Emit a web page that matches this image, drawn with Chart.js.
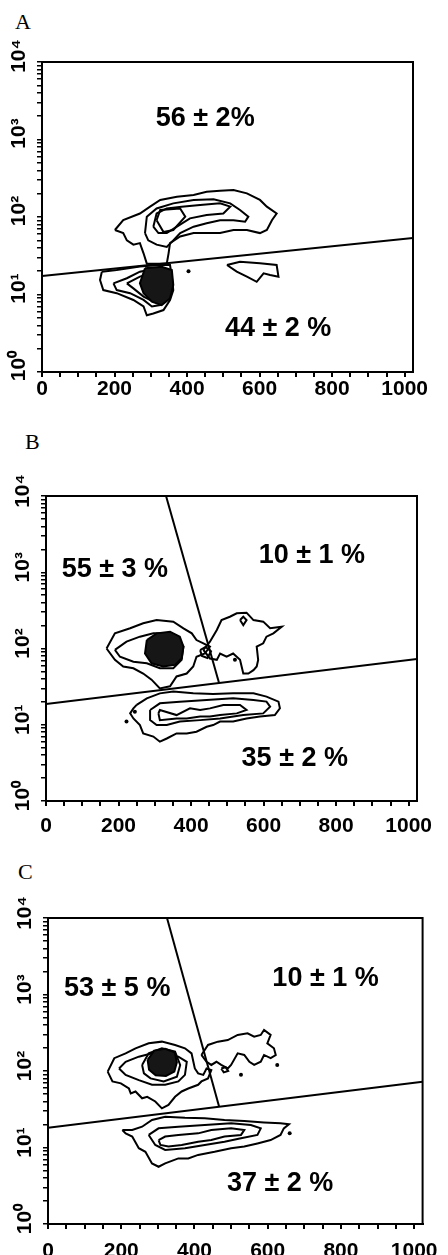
<!DOCTYPE html>
<html>
<head>
<meta charset="utf-8">
<script src="https://cdn.jsdelivr.net/npm/chart.js@4.4.0/dist/chart.umd.min.js"></script>
<style>
  body { margin: 0; background: #fff; width: 448px; height: 1255px; position: relative; overflow: hidden; }
  canvas { position: absolute; left: 0; }
  .tag { position: absolute; font-family: "Liberation Serif", "Times New Roman", serif; font-size: 22px; line-height: 22px; color: #000; }
</style>
</head>
<body>
<div class="tag" style="left:15px;top:11px">A</div>
<div class="tag" style="left:25px;top:431px">B</div>
<div class="tag" style="left:18px;top:861px">C</div>
<canvas id="chartA" width="448" height="415" style="top:0px"></canvas>
<canvas id="chartB" width="448" height="420" style="top:415px"></canvas>
<canvas id="chartC" width="448" height="420" style="top:835px"></canvas>
<script>
// axes
const xTickValues = [0, 50, 100, 150, 200, 250, 300, 350, 400, 450, 500, 550, 600, 650, 700, 750, 800, 850, 900, 950, 1000];
const xLabelValues = [0, 200, 400, 600, 800, 1000];
const yTickValues = [1, 2, 3, 4, 5, 6, 7, 8, 9, 10, 20, 30, 40, 50, 60, 70, 80, 90,
  100, 200, 300, 400, 500, 600, 700, 800, 900, 1000, 2000, 3000, 4000, 5000, 6000, 7000, 8000, 9000, 10000];
const yLabelValues = [1, 10, 100, 1000, 10000];
const yLabelText = ['10⁰', '10¹', '10²', '10³', '10⁴'];

// panel A
const aGate = [[0, 17.3], [1023, 53.6]];
const aUpOuter = [[201, 68], [224, 91], [270, 111], [298, 136], [326, 166], [372, 183], [418, 192], [454, 212], [491, 218],
  [528, 223], [565, 202], [601, 166], [620, 136], [647, 111], [634, 91], [620, 68], [601, 62], [565, 68], [528, 68],
  [491, 62], [454, 62], [418, 62], [381, 56], [353, 46], [349, 34], [344, 25], [289, 25], [280, 34], [270, 46],
  [252, 44], [234, 50], [224, 62], [201, 68]];
const aUpMid = [[284, 62], [289, 101], [316, 129], [362, 150], [418, 166], [473, 169], [519, 150], [546, 123], [569, 101],
  [560, 87], [528, 91], [491, 91], [454, 83], [418, 75], [381, 62], [362, 50], [344, 41], [316, 44], [293, 50], [284, 62]];
const aUpInner = [[307, 75], [316, 111], [344, 129], [385, 136], [436, 143], [491, 150], [519, 136], [500, 111], [454, 106],
  [408, 96], [372, 75], [344, 62], [321, 62], [307, 75]];
const aUpCore = [[316, 91], [326, 123], [381, 129], [395, 101], [362, 68], [335, 64], [316, 91]];
const aLoOuter = [[165, 19.7], [206, 20.7], [270, 22.9], [326, 24], [353, 24], [358, 17], [362, 11.4], [353, 8.5], [335, 6.3],
  [307, 5.7], [289, 5.4], [280, 7], [252, 8.5], [206, 10.4], [169, 11.4], [160, 15.4], [165, 19.7]];
const aLoMid = [[197, 13.9], [234, 16.2], [270, 19.7], [316, 21.8], [344, 20.7], [349, 13.9], [344, 9.4], [326, 7.3],
  [303, 7.0], [280, 8.5], [243, 10.4], [206, 11.4], [197, 13.9]];
const aLoTongue = [[234, 13.9], [270, 17], [316, 19.7], [339, 17], [335, 10.4], [307, 8.1], [280, 9.4], [252, 12], [234, 13.9]];
const aLoDense = [[284, 21.8], [330, 22.8], [358, 20.7], [362, 13.3], [353, 8.9], [330, 7.3], [303, 8.1], [280, 10.4],
  [270, 14.0], [284, 21.8]];
const aRight = [[510, 24], [546, 26.5], [601, 25.3], [647, 24], [652, 17], [629, 17.9], [611, 18.8], [592, 14.6], [565, 17],
  [537, 19.7], [510, 24]];
const aDots = [[404, 20]];
const aLabelText = ['56 ± 2%', '44 ± 2 %'];
const aLabelX = [450, 651];
const aLabelY = [1890, 3.6];

// panel B
const bGateH = [[0, 18.7], [1023, 72.8]];
const bGateV = [[331, 10000], [477, 35.5]];
const bUlOuter = [[167, 100], [190, 158], [232, 184], [268, 214], [305, 236], [351, 225], [379, 184], [402, 158], [415, 129],
  [434, 117], [452, 106], [438, 86], [415, 78], [406, 58], [388, 47], [360, 43], [342, 32], [314, 30], [291, 39],
  [268, 47], [241, 55], [213, 58], [190, 71], [167, 100]];
const bUlMid = [[190, 96], [222, 123], [259, 143], [296, 158], [333, 158], [360, 143], [379, 106], [374, 71], [351, 55],
  [314, 55], [278, 64], [241, 67], [204, 78], [190, 96]];
const bDense = [[278, 129], [305, 158], [342, 166], [369, 143], [379, 106], [374, 74], [356, 61], [323, 58], [291, 64],
  [273, 86], [278, 129]];
const bRight = [[434, 96], [452, 123], [471, 175], [484, 236], [507, 261], [526, 289], [553, 295], [572, 236], [599, 225],
  [618, 184], [650, 193], [627, 158], [608, 143], [599, 117], [581, 106], [585, 71], [581, 58], [572, 52], [558, 47],
  [544, 47], [535, 71], [516, 86], [498, 78], [480, 86], [471, 71], [452, 74], [434, 96]];
const bDiamond = [[535, 236], [544, 261], [553, 236], [544, 203], [535, 236]];
const bKnot = [[425, 95], [440, 105], [455, 92], [445, 75], [430, 80], [425, 95]];
const bLoOuter = [[250, 18.2], [278, 22.2], [314, 25.8], [351, 27.2], [406, 25.8], [461, 25.3], [516, 25.8], [572, 25.8],
  [608, 23.4], [641, 20.1], [645, 16.4], [631, 13.4], [590, 12.8], [553, 12.1], [516, 11], [480, 11], [461, 9.9],
  [443, 9.4], [415, 8.1], [388, 7.7], [360, 7.7], [333, 6.6], [314, 6.0], [296, 7.0], [268, 7.7], [259, 9.9],
  [241, 12.1], [232, 14.1], [241, 16.4], [250, 18.2]];
const bLoMid = [[287, 15.6], [314, 19.1], [369, 20.1], [443, 21.1], [516, 22.2], [572, 21.1], [608, 20.1], [618, 17.3],
  [599, 14.1], [544, 13.4], [480, 12.1], [425, 11.5], [369, 11], [333, 9.9], [305, 9.9], [287, 11.5], [287, 15.6]];
const bLoInner = [[310, 14.1], [314, 15.6], [360, 13.4], [397, 16.4], [425, 15.6], [452, 16.4], [489, 18.2], [535, 18.2],
  [553, 15.6], [526, 14.1], [480, 13.4], [452, 12.8], [425, 12.8], [388, 12.1], [360, 12.1], [314, 11.5], [310, 14.1]];
const bDots = [[222, 11], [245, 14.8], [521, 71]];
const bLabelText = ['55 ± 3 %', '10 ± 1 %', '35 ± 2 %'];
const bLabelX = [190, 733, 686];
const bLabelY = [1100, 1680, 3.56];

// panel C
const cGateH = [[0, 18.1], [1023, 72.5]];
const cGateV = [[325, 10000], [467, 34.5]];
const cUlOuter = [[163, 98], [181, 147], [212, 170], [239, 198], [275, 230], [311, 242], [347, 219], [374, 198], [392, 170],
  [397, 132], [401, 108], [410, 93], [424, 89], [433, 108], [446, 103], [437, 80], [419, 73], [410, 66], [383, 59],
  [365, 54], [347, 46], [329, 36], [311, 32.5], [293, 40], [271, 46], [257, 44], [239, 54], [226, 51], [221, 59],
  [199, 69], [176, 73], [163, 98]];
const cUlMid = [[194, 108], [212, 132], [248, 154], [284, 170], [320, 162], [356, 154], [379, 132], [374, 89], [356, 73],
  [320, 66], [284, 66], [248, 76], [212, 89], [194, 108]];
const cCore1 = [[257, 120], [275, 170], [311, 198], [347, 179], [361, 120], [352, 84], [316, 73], [280, 80], [262, 93], [257, 120]];
const cDense = [[272, 140], [290, 185], [320, 195], [346, 175], [352, 130], [345, 98], [322, 86], [294, 88], [276, 104],
  [272, 140]];
const cRight = [[419, 162], [437, 219], [464, 242], [491, 254], [518, 296], [545, 311], [563, 281], [581, 296], [590, 344],
  [608, 296], [599, 230], [617, 198], [622, 162], [608, 147], [590, 162], [581, 132], [563, 120], [550, 132], [536, 162],
  [518, 170], [500, 120], [491, 108], [473, 120], [460, 132], [446, 120], [433, 132], [419, 162]];
const cLoop = [[473, 108], [485, 112], [492, 100], [480, 96], [473, 108]];
const cLoOuter = [[203, 16.9], [230, 16.9], [257, 18.7], [284, 22.9], [320, 25.3], [374, 24.5], [428, 24.1], [482, 22.9],
  [536, 22.2], [590, 21.3], [635, 20.7], [658, 20.1], [644, 17.8], [635, 14.6], [608, 12.5], [572, 11.3], [536, 10.3],
  [500, 9.8], [455, 8.8], [410, 8], [383, 7.2], [356, 7.2], [320, 6.2], [302, 5.6], [284, 6.2], [266, 8.8], [248, 9.8],
  [230, 13.9], [212, 15.3], [203, 16.9]];
const cLoMid = [[275, 14.6], [302, 17.8], [356, 18.7], [428, 19.7], [500, 20.7], [554, 19.7], [581, 17.8], [572, 14.6],
  [527, 13.2], [482, 11.9], [428, 10.8], [374, 9.8], [320, 9.3], [293, 10.8], [275, 14.6]];
const cLoInner = [[302, 12.5], [320, 13.9], [356, 14.6], [410, 15.3], [446, 16.9], [500, 17.8], [536, 16.9], [527, 14.6],
  [482, 13.9], [446, 12.5], [410, 11.9], [365, 10.8], [329, 10.3], [307, 10.8], [302, 12.5]];
const cDots = [[626, 120], [527, 89], [660, 15.3]];
const cLabelText = ['53 ± 5 %', '10 ± 1 %', '37 ± 2 %'];
const cLabelX = [189, 758, 634];
const cLabelY = [1180, 1640, 3.33];

Chart.defaults.font.family = '"Liberation Sans", Arial, sans-serif';
Chart.defaults.color = '#000';

function toPts(arr) {
  return arr.map(p => ({ x: p[0], y: p[1] }));
}

function makePanel(id, box, contours, dense, gates, dots, texts, tx, ty) {
  const datasets = [];
  dense.forEach(d => datasets.push({
    data: toPts(d), showLine: true, pointRadius: 0, borderColor: '#000', borderWidth: 2, tension: 0,
    fill: 'shape', backgroundColor: '#161616'
  }));
  contours.forEach(c => datasets.push({
    data: toPts(c), showLine: true, pointRadius: 0, borderColor: '#000', borderWidth: 2, tension: 0, fill: false
  }));
  gates.forEach(g => datasets.push({
    data: toPts(g), showLine: true, pointRadius: 0, borderColor: '#000', borderWidth: 2, tension: 0, fill: false
  }));
  datasets.push({ data: toPts(dots), showLine: false, pointRadius: 2, backgroundColor: '#000', borderWidth: 0 });

  new Chart(document.getElementById(id), {
    type: 'scatter',
    data: { datasets },
    options: {
      responsive: false,
      animation: false,
      events: [],
      layout: { padding: { top: box.top, right: box.right, left: 0, bottom: 0 } },
      plugins: { legend: { display: false }, tooltip: { enabled: false }, filler: { propagate: false } },
      scales: {
        x: {
          type: 'linear', min: 0, max: 1023,
          afterBuildTicks: s => { s.ticks = xTickValues.map(v => ({ value: v })); },
          afterFit: s => { s.height = box.xAxis; },
          ticks: {
            autoSkip: false, maxRotation: 0, padding: box.xPad, color: '#000',
            font: { size: 21, weight: 'bold' },
            callback: v => xLabelValues.includes(v) ? String(v) : ''
          },
          grid: { drawOnChartArea: false, drawTicks: true, tickLength: 5, color: '#000', lineWidth: 2 },
          border: { display: true, color: '#000', width: 2 }
        },
        y: {
          type: 'logarithmic', min: 1, max: 10000,
          afterBuildTicks: s => { s.ticks = yTickValues.map(v => ({ value: v })); },
          afterFit: s => { s.width = box.left; },
          ticks: {
            autoSkip: false, minRotation: 90, maxRotation: 90, crossAlign: 'center', padding: 1,
            labelOffset: box.yOff, color: '#000',
            font: { size: 21, weight: 'bold' },
            callback: v => {
              const i = yLabelValues.indexOf(v);
              return i >= 0 ? yLabelText[i] : '';
            }
          },
          grid: { drawOnChartArea: false, drawTicks: true, tickLength: 5, color: '#000', lineWidth: 1.5 },
          border: { display: true, color: '#000', width: 2 }
        }
      }
    },
    plugins: [{
      id: 'frameAndText',
      afterDraw(chart) {
        const { ctx, chartArea: a, scales: { x, y } } = chart;
        ctx.save();
        ctx.strokeStyle = '#000';
        ctx.lineWidth = 2;
        ctx.strokeRect(a.left, a.top, a.right - a.left, a.bottom - a.top);
        ctx.fillStyle = '#000';
        ctx.font = 'bold 27px "Liberation Sans", Arial, sans-serif';
        ctx.textAlign = 'center';
        ctx.textBaseline = 'middle';
        texts.forEach((t, i) => ctx.fillText(t, x.getPixelForValue(tx[i]), y.getPixelForValue(ty[i])));
        ctx.restore();
      }
    }]
  });
}

makePanel('chartA', { top: 62, right: 35, left: 42, xAxis: 43, xPad: 0, yOff: -6 },
  [aUpOuter, aUpMid, aUpInner, aUpCore, aLoOuter, aLoMid, aLoTongue, aRight], [aLoDense],
  [aGate], aDots, aLabelText, aLabelX, aLabelY);

makePanel('chartB', { top: 81, right: 31, left: 46, xAxis: 34, xPad: 8, yOff: -5 },
  [bUlOuter, bUlMid, bRight, bDiamond, bKnot, bLoOuter, bLoMid, bLoInner], [bDense],
  [bGateH, bGateV], bDots, bLabelText, bLabelX, bLabelY);

makePanel('chartC', { top: 83, right: 21, left: 48, xAxis: 31, xPad: 10, yOff: -5 },
  [cUlOuter, cUlMid, cCore1, cRight, cLoop, cLoOuter, cLoMid, cLoInner], [cDense],
  [cGateH, cGateV], cDots, cLabelText, cLabelX, cLabelY);
</script>
</body>
</html>
